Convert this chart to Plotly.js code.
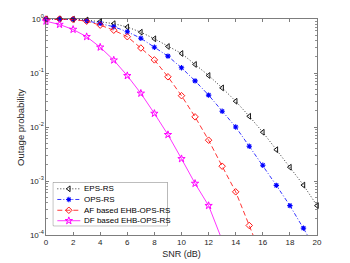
<!DOCTYPE html>
<html><head><meta charset="utf-8">
<script src="https://cdn.plot.ly/plotly-3.0.1.min.js"></script>
<style>html,body{margin:0;padding:0;background:#fff}#chart{width:350px;height:263px}</style>
</head><body><div id="chart"></div>
<script>
const snr = [0,1,2,3,4,5,6,7,8,9,10,11,12,13,14,15,16,17,18,19,20];
const epsRS = [1,1,0.99,0.96,0.9,0.82,0.71,0.57,0.43,0.31,0.23,0.144,0.09,0.053,0.030,0.0158,0.008,0.0038,0.0018,8.4e-4,3.5e-4];
const opsRS = [1,1,0.99,0.93,0.83,0.72,0.58,0.44,0.30,0.205,0.125,0.0716,0.039,0.0196,0.010,0.0044,0.00196,8.3e-4,3.5e-4,1.34e-4,5e-5];
const afEHB = [1,1,0.98,0.91,0.77,0.62,0.47,0.29,0.175,0.085,0.038,0.0154,0.0057,0.00188,6.3e-4,1.5e-4,3.5e-5];
const dfEHB = [0.91,0.79,0.64,0.47,0.30,0.173,0.089,0.042,0.0178,0.0072,0.00258,9.0e-4,3.5e-4,8e-5];
const seriesNames = ['EPS-RS','OPS-RS','AF based EHB-OPS-RS','DF based EHB-OPS-RS'];
const xTickVals = [0,2,4,6,8,10,12,14,16,18,20];
const yTickVals = [1e-4,1e-3,1e-2,1e-1,1];
const yTickText = ['10<sup>-4</sup>','10<sup>-3</sup>','10<sup>-2</sup>','10<sup>-1</sup>','10<sup>0</sup>'];
const xTitle = 'SNR (dB)';
const yTitle = 'Outage probability';

const seriesData = [epsRS, opsRS, afEHB, dfEHB];
const styles = [
  {color:'#000000', dash:'1px,2px', symbol:'triangle-left-open', size:5, lw:0.9},
  {color:'#0000ff', dash:'4px,2px,1px,2px', symbol:'asterisk-open', size:4.5, lw:1.1},
  {color:'#ff0000', dash:'5px,3px', symbol:'diamond-open', size:5, lw:0.9},
  {color:'#ff00ff', dash:'solid', symbol:'star-open', size:5.5, lw:1}
];
const legendRows = [37, 26.3, 15.5, 5];

const minorVals = [];
for (let e = -4; e < 0; e++) { for (let m = 2; m <= 9; m++) minorVals.push(m * Math.pow(10, e)); }

const traces = [];
seriesData.forEach((d, i) => {
  const s = styles[i];
  traces.push({
    x: snr.slice(0, d.length), y: d, type:'scatter', mode:'lines+markers',
    name: seriesNames[i], showlegend:false, cliponaxis:false,
    line:{color:s.color, width:0.8, dash:s.dash},
    marker:{symbol:s.symbol, size:s.size, color:s.color, line:{color:s.color, width:s.lw}}
  });
});
seriesData.forEach((d, i) => {
  const s = styles[i];
  const r = legendRows[i];
  traces.push({
    x:[57,68.5,80], y:[r,r,r], xaxis:'x2', yaxis:'y2', type:'scatter', mode:'lines+markers',
    showlegend:false, hoverinfo:'skip', cliponaxis:false,
    line:{color:s.color, width:0.8, dash:s.dash},
    marker:{symbol:s.symbol, size:s.size, color:s.color, opacity:[0,1,0], line:{color:s.color, width:s.lw}}
  });
});

const annotations = seriesNames.map((n, i) => ({
  x:82, y:legendRows[i], xref:'x2', yref:'y2', text:n, showarrow:false,
  xanchor:'left', yanchor:'middle', font:{size:8, color:'#000'}
}));
annotations.push({
  x:-0.096, y:0.5, xref:'paper', yref:'paper', text:yTitle, showarrow:false, textangle:-90,
  xanchor:'center', yanchor:'middle', font:{size:9.5, color:'#262626'}
});

const axCol = '#262626';
const layout = {
  width:350, height:263,
  margin:{l:46, r:33, t:19, b:28},
  paper_bgcolor:'#fff', plot_bgcolor:'#fff',
  font:{family:'Liberation Sans, Arial, sans-serif', size:8, color:axCol},
  showlegend:false,
  xaxis:{
    domain:[0,1], range:[0,20], tickvals:xTickVals, ticks:'inside', ticklen:3, tickwidth:0.6,
    tickcolor:axCol, showline:true, linecolor:axCol, linewidth:0.6, mirror:'ticks',
    showgrid:false, zeroline:false, tickfont:{size:8},
    title:{text:xTitle, font:{size:9}, standoff:4}
  },
  yaxis:{
    type:'log', range:[-4,0], tickvals:yTickVals, ticktext:yTickText, ticks:'inside', ticklen:3, tickwidth:0.6,
    tickcolor:axCol, showline:true, linecolor:axCol, linewidth:0.6, mirror:'ticks',
    showgrid:false, zeroline:false, tickfont:{size:8},
    minor:{tickvals:minorVals, ticks:'inside', ticklen:1.8, tickwidth:0.5, tickcolor:axCol, showgrid:false}
  },
  xaxis2:{domain:[0.027,0.448], anchor:'y2', range:[53,167], visible:false, fixedrange:true},
  yaxis2:{domain:[0.043,0.243], anchor:'x2', range:[0,43.3], visible:false, fixedrange:true},
  shapes:[{type:'rect', xref:'paper', yref:'paper', x0:0.027, x1:0.448, y0:0.043, y1:0.243,
    line:{color:axCol, width:0.6}, fillcolor:'#fff', layer:'below'}],
  annotations: annotations
};
Plotly.newPlot('chart', traces, layout, {displayModeBar:false, staticPlot:true});
</script></body></html>
